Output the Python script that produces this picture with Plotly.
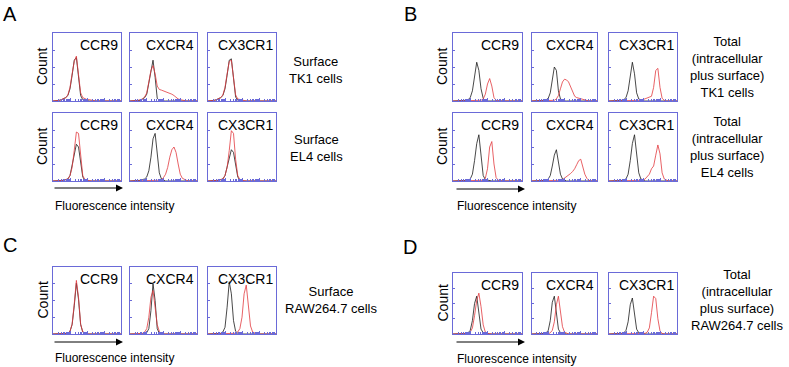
import numpy as np
import plotly.graph_objects as go

W, H = 789, 367

# ---------------- data ----------------
# fluorescence intensity in log decades (bin centres), counts in % of panel height
BINS = [0.0, 0.125, 0.25, 0.375, 0.5, 0.625, 0.75, 0.875, 1.0, 1.125, 1.25,
        1.375, 1.5, 1.625, 1.75, 1.875, 2.0, 2.125, 2.25, 2.375, 2.5, 2.625,
        2.75, 2.875, 3.0, 3.125, 3.25, 3.375, 3.5, 3.625, 3.75, 3.875, 4.0]

RECEPTORS = ["CCR9", "CXCR4", "CX3CR1"]

# Panel A, surface TK1 cells (black = control, red = stained)
A_TK1_CCR9_K = [0,0,1,1,2,3,5,8,18,38,60,64,35,8,2,1,0,0,0,0,0,0,0,0,0,0,0,0,0,0,0,0,0]
A_TK1_CCR9_R = [0,0,1,1,2,3,5,9,20,40,58,66,38,12,5,3,2,2,1,1,0,0,0,0,0,0,0,0,0,0,0,0,0]
A_TK1_CXCR4_K = [0,0,0,1,1,1,3,5,10,25,45,60,35,4,1,0,0,0,0,0,0,0,0,0,0,0,0,0,0,0,0,0,0]
A_TK1_CXCR4_R = [0,0,0,1,1,2,3,6,12,28,45,52,40,22,17,16,15,14,13,12,10,8,5,3,2,1,0,0,0,0,0,0,0]
A_TK1_CX3CR1_K = [0,0,1,1,2,3,5,8,18,38,60,62,30,6,1,0,0,0,0,0,0,0,0,0,0,0,0,0,0,0,0,0,0]
A_TK1_CX3CR1_R = [0,0,1,1,2,3,5,9,20,40,58,60,34,9,3,2,1,0,0,0,0,0,0,0,0,0,0,0,0,0,0,0,0]
# Panel A, surface EL4 cells
A_EL4_CCR9_K = [0,0,0,0,1,1,2,3,8,22,40,54,50,25,6,1,0,0,0,0,0,0,0,0,0,0,0,0,0,0,0,0,0]
A_EL4_CCR9_R = [0,0,0,0,1,1,2,3,8,20,45,72,70,35,8,2,1,0,0,0,0,0,0,0,0,0,0,0,0,0,0,0,0]
A_EL4_CXCR4_K = [0,0,0,0,0,1,2,3,6,15,35,62,70,40,12,3,1,0,0,0,0,0,0,0,0,0,0,0,0,0,0,0,0]
A_EL4_CXCR4_R = [0,0,0,0,0,0,0,0,0,0,0,0,0,0,1,2,5,10,20,35,46,50,42,25,10,4,2,1,0,0,0,0,0]
A_EL4_CX3CR1_K = [0,0,0,0,1,1,2,3,8,20,35,46,42,22,6,1,0,0,0,0,0,0,0,0,0,0,0,0,0,0,0,0,0]
A_EL4_CX3CR1_R = [0,0,0,0,1,1,2,3,8,20,45,74,70,32,8,2,1,0,0,0,0,0,0,0,0,0,0,0,0,0,0,0,0]
# Panel B, total TK1 cells
B_TK1_CCR9_K = [0,0,0,0,0,0,1,2,5,15,35,57,45,18,4,1,0,0,0,0,0,0,0,0,0,0,0,0,0,0,0,0,0]
B_TK1_CCR9_R = [0,0,0,0,0,0,0,0,0,0,0,0,0,1,3,10,25,33,22,5,1,0,0,0,0,0,0,0,0,0,0,0,0]
B_TK1_CXCR4_K = [0,0,0,0,0,0,1,2,4,12,30,50,45,15,3,1,0,0,0,0,0,0,0,0,0,0,0,0,0,0,0,0,0]
B_TK1_CXCR4_R = [0,0,0,0,0,0,0,0,0,0,0,1,3,8,18,28,32,31,28,20,12,7,5,4,3,2,1,0,0,0,0,0,0]
B_TK1_CX3CR1_K = [0,0,0,0,0,0,1,2,5,15,40,57,40,12,3,1,0,0,0,0,0,0,0,0,0,0,0,0,0,0,0,0,0]
B_TK1_CX3CR1_R = [0,0,0,0,0,0,0,0,0,0,0,0,0,0,0,1,2,3,4,5,7,20,45,48,20,4,1,0,0,0,0,0,0]
# Panel B, total EL4 cells
B_EL4_CCR9_K = [0,0,0,0,0,0,0,1,3,10,30,55,68,35,8,2,1,0,0,0,0,0,0,0,0,0,0,0,0,0,0,0,0]
B_EL4_CCR9_R = [0,0,0,0,0,0,0,0,0,0,0,0,0,0,1,4,18,50,58,25,5,1,0,0,0,0,0,0,0,0,0,0,0]
B_EL4_CXCR4_K = [0,0,0,0,0,0,0,1,3,8,22,38,46,30,10,3,1,0,0,0,0,0,0,0,0,0,0,0,0,0,0,0,0]
B_EL4_CXCR4_R = [0,0,0,0,0,0,0,0,0,0,0,0,0,0,1,2,4,6,8,11,14,18,24,30,32,22,10,4,1,0,0,0,0]
B_EL4_CX3CR1_K = [0,0,0,0,0,0,0,1,3,10,30,55,68,40,12,3,1,0,0,0,0,0,0,0,0,0,0,0,0,0,0,0,0]
B_EL4_CX3CR1_R = [0,0,0,0,0,0,0,0,0,0,0,0,0,0,0,0,1,3,6,10,18,22,38,53,40,12,3,1,0,0,0,0,0]
# Panel C, surface RAW264.7 cells
C_RAW_CCR9_K = [0,0,0,0,0,0,0,1,4,14,42,76,52,14,3,1,0,0,0,0,0,0,0,0,0,0,0,0,0,0,0,0,0]
C_RAW_CCR9_R = [0,0,0,0,0,0,0,1,4,15,45,80,55,15,3,1,0,0,0,0,0,0,0,0,0,0,0,0,0,0,0,0,0]
C_RAW_CXCR4_K = [0,0,0,0,0,0,0,0,2,8,35,75,50,8,1,0,0,0,0,0,0,0,0,0,0,0,0,0,0,0,0,0,0]
C_RAW_CXCR4_R = [0,0,0,0,0,0,1,3,8,25,55,65,40,14,4,1,0,0,0,0,0,0,0,0,0,0,0,0,0,0,0,0,0]
C_RAW_CX3CR1_K = [0,0,0,0,0,0,1,3,10,40,78,60,20,4,1,0,0,0,0,0,0,0,0,0,0,0,0,0,0,0,0,0,0]
C_RAW_CX3CR1_R = [0,0,0,0,0,0,0,0,0,0,0,0,0,1,3,8,25,60,73,40,12,3,1,0,0,0,0,0,0,0,0,0,0]
# Panel D, total RAW264.7 cells
D_RAW_CCR9_K = [0,0,0,0,0,0,1,2,6,22,50,62,35,8,2,1,0,0,0,0,0,0,0,0,0,0,0,0,0,0,0,0,0]
D_RAW_CCR9_R = [0,0,0,0,0,0,0,1,3,10,30,55,67,45,15,3,1,0,0,0,0,0,0,0,0,0,0,0,0,0,0,0,0]
D_RAW_CXCR4_K = [0,0,0,0,0,0,1,2,6,22,52,62,30,8,2,1,0,0,0,0,0,0,0,0,0,0,0,0,0,0,0,0,0]
D_RAW_CXCR4_R = [0,0,0,0,0,0,0,0,0,2,6,20,48,62,40,12,3,1,0,0,0,0,0,0,0,0,0,0,0,0,0,0,0]
D_RAW_CX3CR1_K = [0,0,0,0,0,0,1,2,6,20,48,59,32,8,2,1,0,0,0,0,0,0,0,0,0,0,0,0,0,0,0,0,0]
D_RAW_CX3CR1_R = [0,0,0,0,0,0,0,0,0,0,0,0,0,0,0,0,0,1,3,10,35,62,58,25,5,1,0,0,0,0,0,0,0]

ROW_LABELS = {
    "A1": "Surface<br>TK1 cells",
    "A2": "Surface<br>EL4 cells",
    "B1": "Total<br>(intracellular<br>plus surface)<br>TK1 cells",
    "B2": "Total<br>(intracellular<br>plus surface)<br>EL4 cells",
    "C": "Surface<br>RAW264.7 cells",
    "D": "Total<br>(intracellular<br>plus surface)<br>RAW264.7 cells",
}

# ---------------- layout geometry (pixels) ----------------
COLS_LEFT = [(53, 121), (130, 197), (208, 276)]
COLS_RIGHT = [(453, 522), (532, 597), (609, 677)]

rows = [
    # (columns, (top, bottom), curves, label key, label centre x, label centre y)
    (COLS_LEFT, (33, 101), [(A_TK1_CCR9_K, A_TK1_CCR9_R), (A_TK1_CXCR4_K, A_TK1_CXCR4_R), (A_TK1_CX3CR1_K, A_TK1_CX3CR1_R)], "A1", 316, 70),
    (COLS_LEFT, (113, 181), [(A_EL4_CCR9_K, A_EL4_CCR9_R), (A_EL4_CXCR4_K, A_EL4_CXCR4_R), (A_EL4_CX3CR1_K, A_EL4_CX3CR1_R)], "A2", 316, 148),
    (COLS_RIGHT, (33, 101), [(B_TK1_CCR9_K, B_TK1_CCR9_R), (B_TK1_CXCR4_K, B_TK1_CXCR4_R), (B_TK1_CX3CR1_K, B_TK1_CX3CR1_R)], "B1", 727, 67),
    (COLS_RIGHT, (113, 181), [(B_EL4_CCR9_K, B_EL4_CCR9_R), (B_EL4_CXCR4_K, B_EL4_CXCR4_R), (B_EL4_CX3CR1_K, B_EL4_CX3CR1_R)], "B2", 727, 147),
    (COLS_LEFT, (267, 334), [(C_RAW_CCR9_K, C_RAW_CCR9_R), (C_RAW_CXCR4_K, C_RAW_CXCR4_R), (C_RAW_CX3CR1_K, C_RAW_CX3CR1_R)], "C", 331, 300),
    (COLS_RIGHT, (273, 334), [(D_RAW_CCR9_K, D_RAW_CCR9_R), (D_RAW_CXCR4_K, D_RAW_CXCR4_R), (D_RAW_CX3CR1_K, D_RAW_CX3CR1_R)], "D", 737, 300),
]

BOX = "#6a6ad8"
BLACK = "#1a1a1a"
RED = "#e23a3f"
FONT = "Liberation Sans, Arial, sans-serif"

def px(x):
    return x / W

def py(y):
    return 1 - y / H

major = [0, 1, 2, 3, 4]
minor = [d + np.log10(k) for d in range(4) for k in range(2, 10)]

fig = go.Figure()
layout = dict(
    width=W, height=H, margin=dict(l=0, r=0, t=0, b=0),
    paper_bgcolor="white", plot_bgcolor="white", showlegend=False,
    font=dict(family=FONT, color="black"),
)
annotations = []
n = 0
for cols, (top, bot), curves, key, lx, ly in rows:
    for ci, ((x0, x1), (kvals, rvals)) in enumerate(zip(cols, curves)):
        n += 1
        sfx = "" if n == 1 else str(n)
        layout["xaxis" + sfx] = dict(
            domain=[px(x0), px(x1)], range=[0, 4], anchor="y" + sfx,
            showline=True, mirror=True, linecolor=BOX, linewidth=1,
            ticks="inside", tickvals=major, ticklen=3, tickcolor=BOX,
            minor=dict(tickvals=minor, ticks="inside", ticklen=2, tickcolor=BOX),
            showticklabels=False, showgrid=False, zeroline=False, fixedrange=True,
        )
        layout["yaxis" + sfx] = dict(
            domain=[py(bot), py(top)], range=[0, 100], anchor="x" + sfx,
            showline=True, mirror=True, linecolor=BOX, linewidth=1,
            ticks="inside", tickvals=[25, 50, 75], ticklen=2, tickcolor=BOX,
            showticklabels=False, showgrid=False, zeroline=False, fixedrange=True,
        )
        fig.add_trace(go.Scatter(x=BINS, y=kvals, mode="lines",
                                 line=dict(color=BLACK, width=0.8),
                                 xaxis="x" + sfx, yaxis="y" + sfx))
        fig.add_trace(go.Scatter(x=BINS, y=rvals, mode="lines",
                                 line=dict(color=RED, width=0.8),
                                 xaxis="x" + sfx, yaxis="y" + sfx))
        annotations.append(dict(
            text=RECEPTORS[ci], xref="paper", yref="paper",
            x=px(x1 - 2), y=py(top + 3), xanchor="right", yanchor="top",
            showarrow=False, font=dict(size=14, family=FONT), borderpad=0,
        ))
    # Count label
    annotations.append(dict(
        text="Count", xref="paper", yref="paper", textangle=-90,
        x=px(cols[0][0] - 11), y=py((top + bot) / 2), xanchor="center", yanchor="middle",
        showarrow=False, font=dict(size=14, family=FONT),
    ))
    # row label
    annotations.append(dict(
        text=ROW_LABELS[key], xref="paper", yref="paper",
        x=px(lx), y=py(ly), xanchor="center", yanchor="middle", align="center",
        showarrow=False, font=dict(size=13, family=FONT),
    ))

# panel letters
for letter, x, y in [("A", 10, 14), ("B", 410, 14), ("C", 10, 245), ("D", 410, 247)]:
    annotations.append(dict(text=letter, xref="paper", yref="paper", x=px(x), y=py(y),
                            xanchor="center", yanchor="middle", showarrow=False,
                            font=dict(size=20, family=FONT)))

# fluorescence intensity arrows and labels
for x0, x1, ya, yt in [(53, 123, 188, 206), (455, 525, 189, 206), (53, 123, 342, 358), (455, 525, 342, 359)]:
    annotations.append(dict(text="", xref="paper", yref="paper", x=px(x1), y=py(ya),
                            ax=-(x1 - x0), ay=0, showarrow=True, arrowhead=2,
                            arrowsize=1.4, arrowwidth=1, arrowcolor="black"))
    annotations.append(dict(text="Fluorescence intensity", xref="paper", yref="paper",
                            x=px(x0), y=py(yt), xanchor="left", yanchor="middle",
                            showarrow=False, font=dict(size=12, family=FONT)))

layout["annotations"] = annotations
fig.update_layout(**layout)
fig.write_html("out.html", config={"displayModeBar": False},
               post_script="document.body.style.margin='0';document.body.style.overflow='hidden';")
